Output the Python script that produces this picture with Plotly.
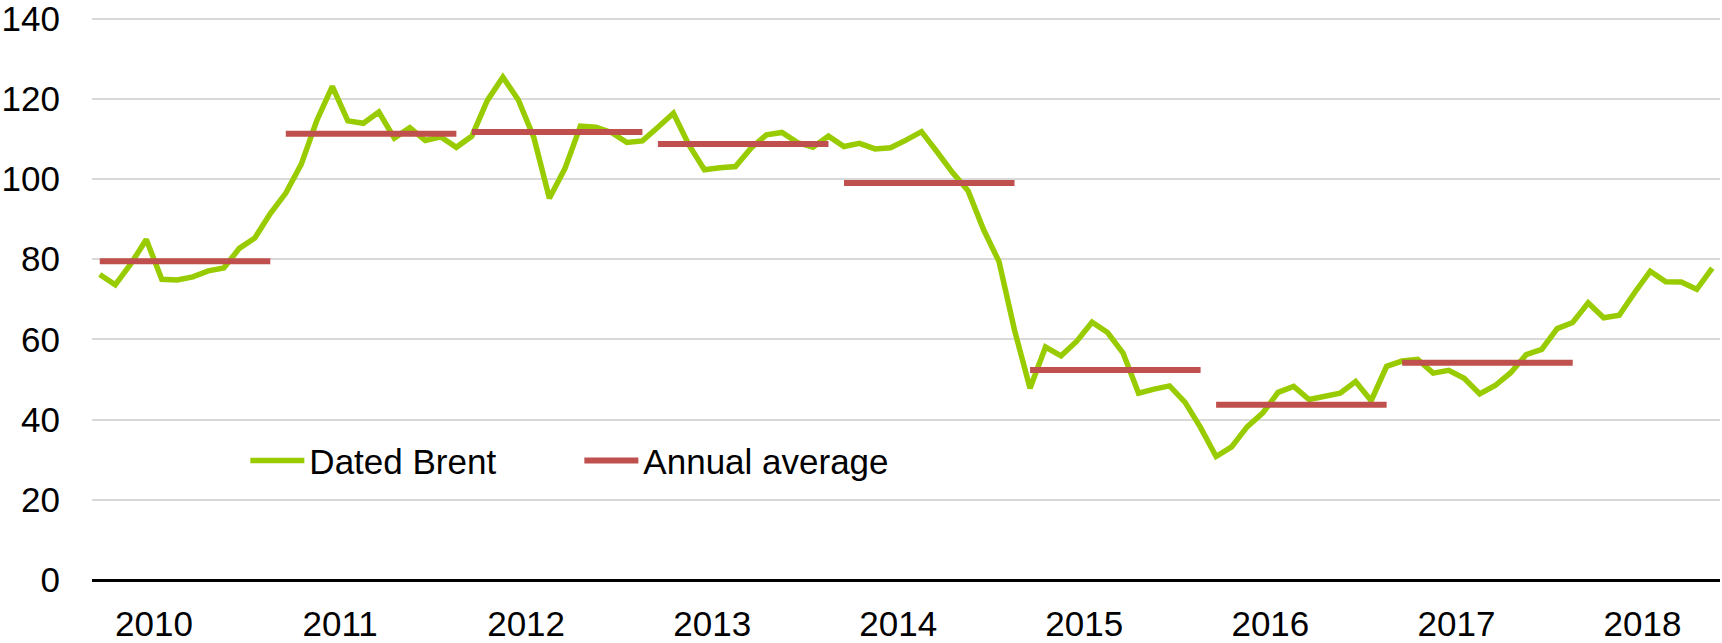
import plotly.graph_objects as go

years = ["2010", "2011", "2012", "2013", "2014", "2015", "2016", "2017", "2018"]
month_names = ["Jan", "Feb", "Mar", "Apr", "May", "Jun", "Jul", "Aug", "Sep", "Oct", "Nov", "Dec"]

brent_2010 = [76.2, 73.6, 78.8, 84.9, 75.0, 74.8, 75.6, 77.1, 77.8, 82.7, 85.3, 91.4]
brent_2011 = [96.5, 103.7, 114.6, 123.1, 114.5, 113.9, 116.7, 110.2, 112.8, 109.6, 110.5, 107.9]
brent_2012 = [110.7, 119.6, 125.4, 119.7, 110.3, 95.2, 102.6, 113.2, 112.9, 111.6, 109.1, 109.5]
brent_2013 = [112.9, 116.4, 108.5, 102.3, 102.8, 103.1, 107.7, 111.0, 111.6, 109.1, 107.9, 110.7]
brent_2014 = [108.1, 108.9, 107.5, 107.8, 109.7, 111.8, 106.8, 101.6, 97.1, 87.4, 79.4, 62.3]
brent_2015 = [47.8, 58.1, 55.9, 59.5, 64.3, 61.7, 56.6, 46.6, 47.6, 48.4, 44.3, 38.0]
brent_2016 = [30.8, 33.2, 38.2, 41.6, 46.8, 48.3, 45.0, 45.8, 46.6, 49.5, 44.7, 53.3]
brent_2017 = [54.6, 55.0, 51.6, 52.3, 50.3, 46.4, 48.5, 51.7, 56.2, 57.5, 62.7, 64.2]
brent_2018 = [69.1, 65.4, 66.0, 71.7, 77.0, 74.4, 74.3, 72.5, 77.8]

annual_avg = [79.5, 111.3, 111.7, 108.7, 99.0, 52.4, 43.7, 54.2]

y_ticks = [0, 20, 40, 60, 80, 100, 120, 140]

brent = (brent_2010 + brent_2011 + brent_2012 + brent_2013 + brent_2014
         + brent_2015 + brent_2016 + brent_2017 + brent_2018)
month_labels = [f"{m} {y}" for y in years for m in month_names][:len(brent)]
x_idx = list(range(len(brent)))

# annual average segments: Jan..Dec of each year, separated by gaps
avg_x, avg_y = [], []
for i, v in enumerate(annual_avg):
    avg_x += [12 * i, 12 * i + 11, None]
    avg_y += [v, v, None]

GREEN = "#99CC00"
RED = "#C0504D"
FONT = "Liberation Sans"
FS = 35

fig = go.Figure()
fig.add_trace(go.Scatter(
    x=x_idx, y=brent, mode="lines", name="Dated Brent",
    text=month_labels, hovertemplate="%{text}: %{y}<extra></extra>",
    line=dict(color=GREEN, width=5.5),
))
fig.add_trace(go.Scatter(
    x=avg_x, y=avg_y, mode="lines", name="Annual average",
    line=dict(color=RED, width=6), connectgaps=False,
))

fig.update_layout(
    width=1722, height=643,
    margin=dict(l=92, r=2, t=17, b=63),
    paper_bgcolor="white", plot_bgcolor="white",
    font=dict(family=FONT, size=FS, color="black"),
    showlegend=True,
    legend=dict(
        orientation="h", x=0.0942, xanchor="left", y=0.212, yanchor="middle",
        bgcolor="rgba(0,0,0,0)", font=dict(size=FS, family=FONT),
        itemwidth=54, entrywidth=265, entrywidthmode="pixels",
        tracegroupgap=0,
    ),
    xaxis=dict(
        range=[-0.5, 104.5],
        tickvals=[12 * i + 3.5 for i in range(len(years))],
        ticktext=years,
        showgrid=False, zeroline=False, automargin=False,
        showline=False, ticks="", ticklabelstandoff=20,
        ticklabeloverflow="allow",
        tickfont=dict(size=FS, family=FONT),
    ),
    yaxis=dict(
        range=[0, 140.4], tickvals=y_ticks,
        showgrid=True, gridcolor="#D9D9D9", gridwidth=2,
        zeroline=True, zerolinecolor="black", zerolinewidth=3,
        showline=False, ticks="", ticklabelstandoff=31, automargin=False,
        ticklabeloverflow="allow",
        tickfont=dict(size=FS, family=FONT),
    ),
)

fig.write_html(
    "out.html",
    config={"displayModeBar": False},
    post_script="document.body.style.margin='0px';",
)
